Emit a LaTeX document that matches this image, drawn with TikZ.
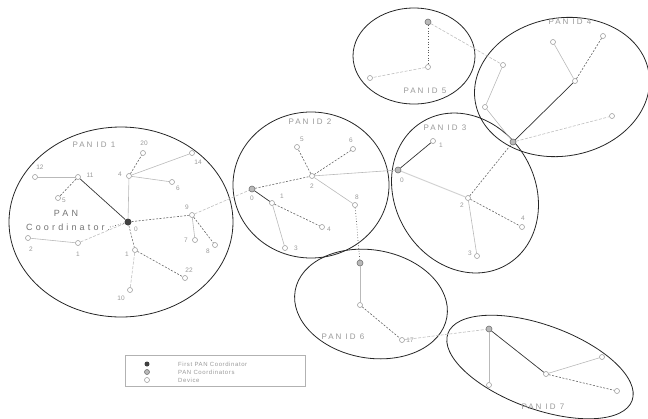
\documentclass[tikz,border=0pt]{standalone}
\usepackage{fontspec}
\setmainfont{Liberation Sans}
\newfontfamily\spaced[LetterSpace=25]{Liberation Sans}
\newfontfamily\spacedb[LetterSpace=35]{Liberation Sans}
\newfontfamily\legf[LetterSpace=10]{Liberation Sans}
\begin{document}
\begin{tikzpicture}[x=1pt,y=-1pt,
  pan/.style={draw=black!85,line width=0.8pt},
  dev/.style={circle,draw=gray!75,fill=white,line width=0.6pt,inner sep=0pt,minimum size=5pt},
  coord/.style={circle,draw=gray!90!black,fill=gray!55,line width=0.6pt,inner sep=0pt,minimum size=6pt},
  first/.style={circle,fill=black!75,inner sep=0pt,minimum size=7pt},
  lbl/.style={font=\fontsize{6.5}{7}\selectfont,text=gray!80,inner sep=0pt},
  panlbl/.style={font=\spaced\fontsize{8}{9}\selectfont,text=gray!80,inner sep=0pt},
  lk/.style={draw=gray!55,line width=0.6pt},
  lkw/.style={draw=gray!35,line width=1pt},
  lkd/.style={draw=black!60,line width=0.6pt,dash pattern=on 2pt off 1.5pt},
  lkl/.style={draw=gray!50,line width=0.6pt,dash pattern=on 3pt off 1.5pt},
  lkb/.style={draw=black!80,line width=0.7pt},
  lkdot/.style={draw=black!65,line width=0.7pt,dotted}]
\useasboundingbox (0,0) rectangle (648,418);
% PAN areas
\draw[pan] (121,222) ellipse [x radius=112, y radius=95];
\draw[pan] (311,185) ellipse [x radius=78, y radius=73];
\draw[pan,rotate around={-60:(465,193)}] (465,193) ellipse [x radius=83, y radius=70];
\draw[pan,rotate around={10:(562,87)}] (562,87) ellipse [x radius=88, y radius=69];
\draw[pan] (414,56) ellipse [x radius=61, y radius=48];
\draw[pan,rotate around={-10:(371,304)}] (371,304) ellipse [x radius=77, y radius=54];
\draw[pan,rotate around={-20:(540,367)}] (540,367) ellipse [x radius=98, y radius=42];
% PAN 1
\node[first] (a0) at (128,222) {};
\node[dev] (a4) at (129,176) {};
\node[dev] (a20) at (143,153) {};
\node[dev] (a14) at (192,153) {};
\node[dev] (a6) at (172,182) {};
\node[dev] (a11) at (78,177) {};
\node[dev] (a12) at (35,177) {};
\node[dev] (a5) at (58,198) {};
\node[dev] (a9) at (192,215) {};
\node[dev] (a7) at (195,240) {};
\node[dev] (a8) at (215,245) {};
\node[dev] (a2) at (28,238) {};
\node[dev] (a1) at (78,243) {};
\node[dev] (a1b) at (135,250) {};
\node[dev] (a22) at (185,278) {};
\node[dev] (a10) at (130,290) {};
\node[lbl] (la0) at (136,229) {0};
\node[lbl] (la4) at (120,174) {4};
\node[lbl] (la20) at (144,143) {20};
\node[lbl] (la14) at (198,162) {14};
\node[lbl] (la6) at (178,188) {6};
\node[lbl] (la11) at (90,175) {11};
\node[lbl] (la12) at (40,167) {12};
\node[lbl] (la5) at (64,200) {5};
\node[lbl] (la9) at (187,207) {9};
\node[lbl] (la7) at (186,240) {7};
\node[lbl] (la8) at (208,251) {8};
\node[lbl] (la2) at (31,249) {2};
\node[lbl] (la1) at (78,254) {1};
\node[lbl] (la1b) at (127,254) {1};
\node[lbl] (la22) at (189,270) {22};
\node[lbl] (la10) at (121,298) {10};
\node[panlbl] (p1) at (94,145) {PAN ID 1};
\node[font=\spacedb\fontsize{9}{10}\selectfont,text=gray!90!black,inner sep=0pt] (pc1) at (66,213) {PAN};
\node[font=\spacedb\fontsize{9}{10}\selectfont,text=gray!90!black,inner sep=0pt] (pc2) at (68,227) {Coordinator.};
% PAN 2
\node[coord] (b0) at (252,189) {};
\node[dev] (b2) at (312,176) {};
\node[dev] (b5) at (297,147) {};
\node[dev] (b6) at (353,149) {};
\node[dev] (b8) at (355,205) {};
\node[dev] (b1) at (272,203) {};
\node[dev] (b4) at (322,227) {};
\node[dev] (b3) at (285,248) {};
\node[lbl] (lb0) at (252,198) {0};
\node[lbl] (lb2) at (312,186) {2};
\node[lbl] (lb5) at (302,139) {5};
\node[lbl] (lb6) at (351,140) {6};
\node[lbl] (lb8) at (357,197) {8};
\node[lbl] (lb1) at (282,196) {1};
\node[lbl] (lb4) at (329,229) {4};
\node[lbl] (lb3) at (296,248) {3};
\node[panlbl] (p2) at (310,122) {PAN ID 2};
% PAN 3
\node[coord] (c0) at (398,170) {};
\node[dev] (c1) at (433,141) {};
\node[dev] (c2) at (468,198) {};
\node[dev] (c4) at (522,227) {};
\node[dev] (c3) at (477,256) {};
\node[lbl] (lc0) at (402,180) {0};
\node[lbl] (lc1) at (441,145) {1};
\node[lbl] (lc2) at (462,205) {2};
\node[lbl] (lc4) at (523,218) {4};
\node[lbl] (lc3) at (470,253) {3};
\node[panlbl] (p3) at (445,128) {PAN ID 3};
% PAN 4
\node[coord] (d0) at (513,142) {};
\node[dev] (dh) at (575,81) {};
\node[dev] (da) at (553,42) {};
\node[dev] (db) at (603,36) {};
\node[dev] (dc) at (612,116) {};
\node[panlbl] (p4) at (570,22) {PAN ID 4};
% PAN 5
\node[coord] (e0) at (428,22) {};
\node[dev] (eh) at (428,67) {};
\node[dev] (el) at (370,78) {};
\node[dev] (er) at (503,65) {};
\node[dev] (er2) at (485,107) {};
\node[panlbl] (p5) at (425,91) {PAN ID 5};
% PAN 6
\node[coord] (f0) at (360,263) {};
\node[dev] (fa) at (360,305) {};
\node[dev] (f17) at (402,340) {};
\node[lbl] (lf17) at (410,340) {17};
\node[panlbl] (p6) at (343,337) {PAN ID 6};
% PAN 7
\node[coord] (g0) at (489,329) {};
\node[dev] (ga) at (489,385) {};
\node[dev] (gh) at (546,374) {};
\node[dev] (gr) at (602,357) {};
\node[dev] (gr2) at (617,391) {};
\node[panlbl] (p7) at (543,407) {PAN ID 7};
% links PAN 1
\draw[lk] (a12) -- (a11);
\draw[lkd] (a11) -- (a5);
\draw[lkb] (a11) -- (a0);
\draw[lk] (a4) -- (a0);
\draw[lkd] (a4) -- (a20);
\draw[lk] (a4) -- (a14);
\draw[lk] (a4) -- (a6);
\draw[lkd] (a0) -- (a9);
\draw[lk] (a9) -- (a7);
\draw[lkd] (a9) -- (a8);
\draw[lkd] (a0) -- (a1b);
\draw[lkd] (a1b) -- (a22);
\draw[lkl] (a1b) -- (a10);
\draw[lk] (a2) -- (a1);
\draw[lkl] (a1) -- (a0);
\draw[lkdot] (pc2.east) -- (a0);
\draw[lkl] (a9) -- (b0);
% links PAN 2
\draw[lkd] (b0) -- (b2);
\draw[lkd] (b2) -- (b5);
\draw[lkd] (b2) -- (b6);
\draw[lk] (b2) -- (b8);
\draw[lkb] (b0) -- (b1);
\draw[lkd] (b1) -- (b4);
\draw[lk] (b1) -- (b3);
\draw[lk] (b2) -- (c0);
\draw[lkdot] (b8) -- (f0);
% links PAN 3
\draw[lkb] (c0) -- (c1);
\draw[lkw] (c0) -- (c2);
\draw[lkd] (c2) -- (c4);
\draw[lk] (c2) -- (c3);
\draw[lkd] (c2) -- (d0);
% links PAN 4
\draw[lkb] (d0) -- (dh);
\draw[lk] (dh) -- (da);
\draw[lkd] (dh) -- (db);
\draw[lkl] (d0) -- (dc);
% links PAN 5
\draw[lkdot] (e0) -- (eh);
\draw[lkl] (eh) -- (el);
\draw[lkl] (e0) -- (er);
\draw[lk] (er) -- (er2);
\draw[lk] (er2) -- (d0);
% links PAN 6
\draw[lk] (f0) -- (fa);
\draw[lkd] (fa) -- (f17);
\draw[lkl] (f17) -- (g0);
% links PAN 7
\draw[lk] (g0) -- (ga);
\draw[lkb] (g0) -- (gh);
\draw[lk] (gh) -- (gr);
\draw[lkd] (gh) -- (gr2);
% legend
\node[draw=gray!60,line width=0.6pt,minimum width=180pt,minimum height=31pt,inner sep=0pt] (leg) at (215,370.5) {};
\node[first,minimum size=5pt] (lg1) at (147,364) {};
\node[coord,minimum size=5pt] (lg2) at (147,372) {};
\node[dev,minimum size=5pt] (lg3) at (147,380) {};
\node[anchor=west,font=\legf\fontsize{6}{6}\selectfont,text=gray!80,inner sep=0pt] (lt1) at (178,364) {First PAN Coordinator};
\node[anchor=west,font=\legf\fontsize{6}{6}\selectfont,text=gray!80,inner sep=0pt] (lt2) at (178,372) {PAN Coordinators};
\node[anchor=west,font=\legf\fontsize{6}{6}\selectfont,text=gray!80,inner sep=0pt] (lt3) at (178,380) {Device};
\end{tikzpicture}
\end{document}
